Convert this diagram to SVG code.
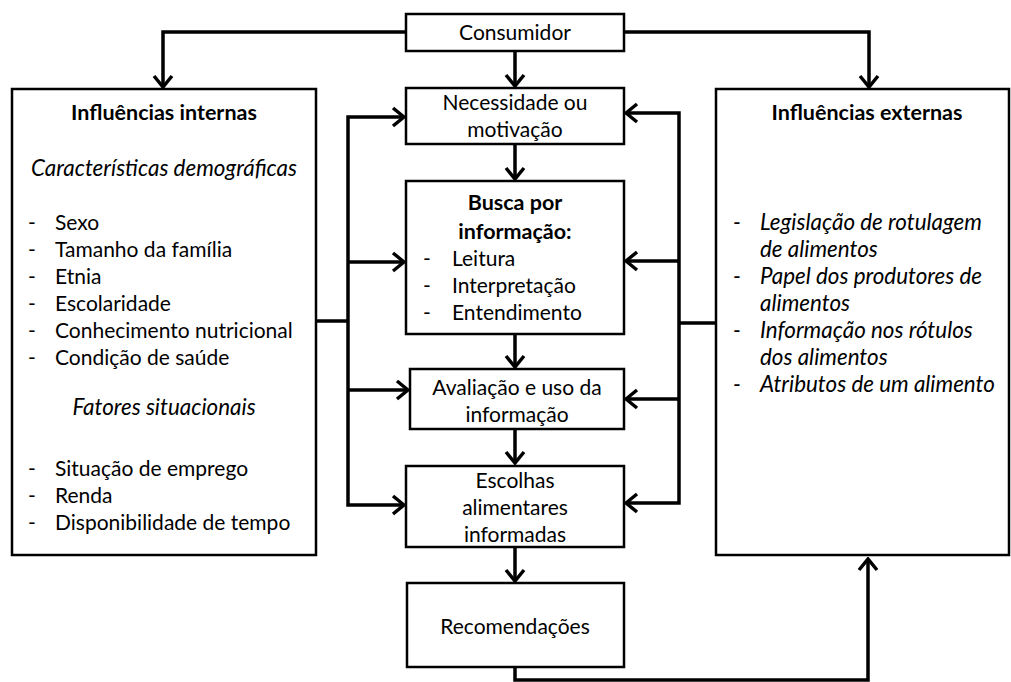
<svg xmlns="http://www.w3.org/2000/svg" width="1011" height="682" viewBox="0 0 1011 682">
<style>
.box{fill:#fff;stroke:#000;stroke-width:2.5}
.t{font-family:Lato,"Liberation Sans",sans-serif;font-size:21px;fill:#000}
.c{text-anchor:middle}
.b{font-weight:bold;font-size:21.5px}
.i{font-style:italic;font-size:22.4px}
.con path{fill:none;stroke:#000;stroke-width:3.5;stroke-linejoin:miter}
</style>
<defs>
<marker id="ah" markerUnits="userSpaceOnUse" viewBox="-14 -11 16 22" refX="0" refY="0" markerWidth="16" markerHeight="22" orient="auto-start-reverse">
<path d="M-11,-9 L0,0 L-11,9" fill="none" stroke="#000" stroke-width="3.5"/>
</marker>
</defs>
<rect width="1011" height="682" fill="#fff"/>
<g class="con">
<path d="M406,32 H163 V87" marker-end="url(#ah)"/>
<path d="M624,32 H869 V87" marker-end="url(#ah)"/>
<path d="M515,51 V86" marker-end="url(#ah)"/>
<path d="M515,144 V179" marker-end="url(#ah)"/>
<path d="M515,334 V367" marker-end="url(#ah)"/>
<path d="M515,429 V463" marker-end="url(#ah)"/>
<path d="M515,547 V581" marker-end="url(#ah)"/>
<path d="M515,667 V680 H868 V559" marker-end="url(#ah)"/>
<path d="M404,117 H348 V505 H404" marker-start="url(#ah)" marker-end="url(#ah)"/>
<path d="M348,262 H404" marker-end="url(#ah)"/>
<path d="M348,390 H408" marker-end="url(#ah)"/>
<path d="M316,321 H348"/>
<path d="M626,113 H679 V503 H626" marker-start="url(#ah)" marker-end="url(#ah)"/>
<path d="M679,261 H626" marker-end="url(#ah)"/>
<path d="M679,399 H626" marker-end="url(#ah)"/>
<path d="M716,323 H679"/>
</g>
<g id="consumidor">
<rect class="box" x="406" y="14" width="218" height="37"/>
<text class="t c" x="515" y="40">Consumidor</text>
</g>
<g id="necessidade">
<rect class="box" x="406" y="88" width="218" height="56"/>
<text class="t c" x="515" y="110">Necessidade ou</text>
<text class="t c" x="515" y="137">motivação</text>
</g>
<g id="busca">
<rect class="box" x="406" y="181" width="218" height="153"/>
<text class="t c b" x="515" y="210">Busca por</text>
<text class="t c b" x="515" y="239">informação:</text>
<text class="t" x="423" y="266">-</text><text class="t" x="452" y="266">Leitura</text>
<text class="t" x="423" y="293">-</text><text class="t" x="452" y="293">Interpretação</text>
<text class="t" x="423" y="320">-</text><text class="t" x="452" y="320">Entendimento</text>
</g>
<g id="avaliacao">
<rect class="box" x="410" y="369" width="214" height="60"/>
<text class="t c" x="517" y="395">Avaliação e uso da</text>
<text class="t c" x="517" y="422">informação</text>
</g>
<g id="escolhas">
<rect class="box" x="406" y="466" width="218" height="81"/>
<text class="t c" x="515" y="488">Escolhas</text>
<text class="t c" x="515" y="515">alimentares</text>
<text class="t c" x="515" y="542">informadas</text>
</g>
<g id="recomendacoes">
<rect class="box" x="407" y="583" width="217" height="84"/>
<text class="t c" x="515" y="634">Recomendações</text>
</g>
<g id="internas">
<rect class="box" x="12" y="89" width="304" height="466"/>
<text class="t c b" x="164" y="120">Influências internas</text>
<text class="t c i" x="164" y="176">Características demográficas</text>
<text class="t" x="28" y="230">-</text><text class="t" x="55" y="230">Sexo</text>
<text class="t" x="28" y="257">-</text><text class="t" x="55" y="257">Tamanho da família</text>
<text class="t" x="28" y="284">-</text><text class="t" x="55" y="284">Etnia</text>
<text class="t" x="28" y="311">-</text><text class="t" x="55" y="311">Escolaridade</text>
<text class="t" x="28" y="338">-</text><text class="t" x="55" y="338">Conhecimento nutricional</text>
<text class="t" x="28" y="365">-</text><text class="t" x="55" y="365">Condição de saúde</text>
<text class="t c i" x="164" y="415">Fatores situacionais</text>
<text class="t" x="28" y="476">-</text><text class="t" x="55" y="476">Situação de emprego</text>
<text class="t" x="28" y="503">-</text><text class="t" x="55" y="503">Renda</text>
<text class="t" x="28" y="530">-</text><text class="t" x="55" y="530">Disponibilidade de tempo</text>
</g>
<g id="externas">
<rect class="box" x="716" y="89" width="293" height="466"/>
<text class="t c b" x="867" y="120">Influências externas</text>
<text class="t i" x="733" y="230">-</text><text class="t i" x="760" y="230">Legislação de rotulagem</text>
<text class="t i" x="760" y="257">de alimentos</text>
<text class="t i" x="733" y="284">-</text><text class="t i" x="760" y="284">Papel dos produtores de</text>
<text class="t i" x="760" y="311">alimentos</text>
<text class="t i" x="733" y="338">-</text><text class="t i" x="760" y="338">Informação nos rótulos</text>
<text class="t i" x="760" y="365">dos alimentos</text>
<text class="t i" x="733" y="392">-</text><text class="t i" x="760" y="392">Atributos de um alimento</text>
</g>
</svg>
